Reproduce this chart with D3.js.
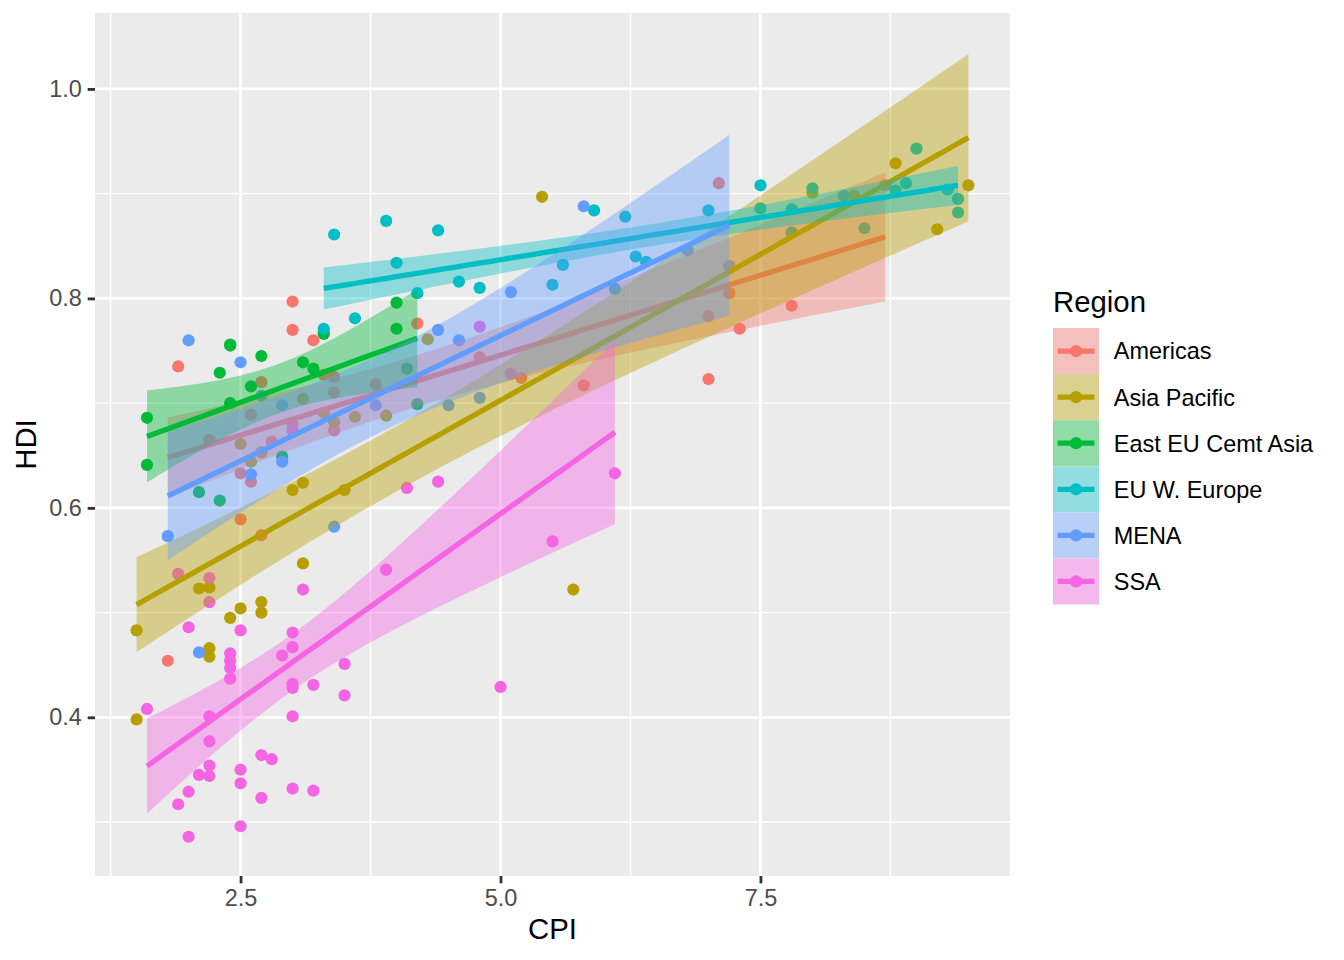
<!DOCTYPE html>
<html>
<head>
<meta charset="utf-8">
<script src="https://cdn.jsdelivr.net/npm/d3@7"></script>
<style>
  html, body { margin: 0; padding: 0; background: #fff; }
  svg { display: block; font-family: "Liberation Sans", Arial, Helvetica, sans-serif; }
</style>
</head>
<body>
<svg id="chart" width="1344" height="960"></svg>
<script>
// CPI / HDI pairs per region
const americas = [
  [3.0, 0.797], [7.3, 0.771], [7.8, 0.793], [2.8, 0.663], [3.8, 0.718], [8.7, 0.908],
  [7.2, 0.805], [3.4, 0.710], [4.8, 0.744], [4.2, 0.776], [5.2, 0.724], [2.6, 0.689],
  [2.7, 0.720], [3.4, 0.674], [2.7, 0.574], [2.5, 0.633], [1.8, 0.454], [2.6, 0.625],
  [3.3, 0.727], [3.0, 0.770], [2.5, 0.589], [3.3, 0.768], [2.2, 0.665], [3.4, 0.725],
  [7.0, 0.723], [5.8, 0.717], [3.0, 0.680], [3.2, 0.760], [7.1, 0.910], [7.0, 0.783],
  [1.9, 0.735]
];
const asiaPacific = [
  [1.5, 0.398], [8.8, 0.929], [2.7, 0.500], [5.7, 0.522], [2.1, 0.523], [3.6, 0.687],
  [8.4, 0.898], [3.1, 0.547], [3.0, 0.617], [8.0, 0.901], [3.1, 0.624], [5.4, 0.897],
  [2.2, 0.524], [4.3, 0.761], [2.5, 0.661], [2.7, 0.653], [1.5, 0.483], [2.2, 0.458],
  [9.5, 0.908], [2.5, 0.504], [2.2, 0.466], [2.6, 0.644], [3.9, 0.688], [9.2, 0.866],
  [2.7, 0.510], [3.3, 0.691], [3.4, 0.682], [2.4, 0.495], [3.1, 0.704], [3.5, 0.617]
];
const eastEU = [
  [3.1, 0.739], [2.6, 0.716], [2.4, 0.700], [2.4, 0.756], [3.2, 0.733], [4.0, 0.796],
  [4.1, 0.733], [2.7, 0.745], [2.1, 0.615], [4.0, 0.771], [3.3, 0.766], [2.9, 0.649],
  [2.4, 0.755], [2.3, 0.607], [1.6, 0.686], [2.3, 0.729], [1.6, 0.641], [4.2, 0.699]
];
const euWEurope = [
  [7.8, 0.885], [7.5, 0.886], [3.3, 0.771], [6.3, 0.840], [4.4, 0.865], [9.4, 0.895],
  [6.4, 0.835], [9.4, 0.882], [7.0, 0.884], [8.0, 0.905], [3.4, 0.861], [4.6, 0.816],
  [8.3, 0.898], [7.5, 0.908], [3.9, 0.874], [4.2, 0.805], [4.8, 0.810], [8.5, 0.867],
  [5.6, 0.832], [8.9, 0.910], [9.0, 0.943], [5.5, 0.813], [6.1, 0.809], [3.6, 0.781],
  [4.0, 0.834], [5.9, 0.884], [6.2, 0.878], [9.3, 0.904], [8.8, 0.903], [7.8, 0.863]
];
const mena = [
  [2.9, 0.698], [5.1, 0.806], [2.9, 0.644], [2.7, 0.707], [1.8, 0.573], [5.8, 0.888],
  [4.5, 0.698], [4.6, 0.760], [2.5, 0.739], [2.0, 0.760], [3.4, 0.582], [4.8, 0.705],
  [7.2, 0.831], [4.4, 0.770], [2.6, 0.632], [3.8, 0.698], [6.8, 0.846], [2.1, 0.462]
];
const ssa = [
  [1.9, 0.537], [2.2, 0.533], [2.2, 0.510], [3.1, 0.522], [2.0, 0.486], [2.5, 0.483],
  [3.0, 0.481], [3.0, 0.467], [2.9, 0.459], [3.5, 0.451], [2.4, 0.461], [2.4, 0.454],
  [2.4, 0.447], [2.4, 0.437], [1.6, 0.408], [2.2, 0.401], [3.0, 0.432], [3.0, 0.428],
  [3.2, 0.431], [3.5, 0.421], [3.0, 0.401], [2.2, 0.377], [2.7, 0.364], [2.8, 0.360],
  [2.2, 0.354], [2.1, 0.345], [2.2, 0.344], [2.5, 0.350], [2.5, 0.337], [2.0, 0.329],
  [1.9, 0.317], [3.0, 0.332], [3.2, 0.330], [2.7, 0.323], [2.5, 0.296], [2.0, 0.286],
  [4.1, 0.619], [4.4, 0.625], [6.1, 0.633], [5.5, 0.568], [5.0, 0.429], [3.9, 0.541],
  [3.0, 0.674], [5.1, 0.728], [4.8, 0.773]
];

const regionNames = ["Americas", "Asia Pacific", "East EU Cemt Asia", "EU W. Europe", "MENA", "SSA"];
const regionData = [americas, asiaPacific, eastEU, euWEurope, mena, ssa];
const regionColors = ["#F8766D", "#B79F00", "#00BA38", "#00BFC4", "#619CFF", "#F564E3"];

const xTicks = [2.5, 5.0, 7.5];
const xMinor = [1.25, 3.75, 6.25, 8.75];
const yTicks = [0.4, 0.6, 0.8, 1.0];
const yMinor = [0.3, 0.5, 0.7, 0.9];
const xDomain = [1.1, 9.9];
const yDomain = [0.2485, 1.0725];

const svg = d3.select("#chart");
const panel = { left: 95, right: 1010, top: 13, bottom: 876 };
const pt = 192 / 72;   // 图片是 7x5 英寸 @192dpi

const x = d3.scaleLinear().domain(xDomain).range([panel.left, panel.right]);
const y = d3.scaleLinear().domain(yDomain).range([panel.bottom, panel.top]);

svg.append("rect").attr("width", 1344).attr("height", 960).attr("fill", "#fff");

// 面板背景与网格
svg.append("rect")
  .attr("x", panel.left).attr("y", panel.top)
  .attr("width", panel.right - panel.left).attr("height", panel.bottom - panel.top)
  .attr("fill", "#EBEBEB");

const majorW = 2.84, minorW = 1.42;
const grid = svg.append("g");
grid.selectAll(".xminor").data(xMinor).enter().append("line")
  .attr("x1", d => x(d)).attr("x2", d => x(d))
  .attr("y1", panel.top).attr("y2", panel.bottom)
  .attr("stroke", "#fff").attr("stroke-width", minorW);
grid.selectAll(".yminor").data(yMinor).enter().append("line")
  .attr("y1", d => y(d)).attr("y2", d => y(d))
  .attr("x1", panel.left).attr("x2", panel.right)
  .attr("stroke", "#fff").attr("stroke-width", minorW);
grid.selectAll(".xmajor").data(xTicks).enter().append("line")
  .attr("x1", d => x(d)).attr("x2", d => x(d))
  .attr("y1", panel.top).attr("y2", panel.bottom)
  .attr("stroke", "#fff").attr("stroke-width", majorW);
grid.selectAll(".ymajor").data(yTicks).enter().append("line")
  .attr("y1", d => y(d)).attr("y2", d => y(d))
  .attr("x1", panel.left).attr("x2", panel.right)
  .attr("stroke", "#fff").attr("stroke-width", majorW);

// 点
const pointR = 6.1;
regionData.forEach((pts, i) => {
  svg.append("g").selectAll("circle").data(pts).enter().append("circle")
    .attr("cx", d => x(d[0])).attr("cy", d => y(d[1]))
    .attr("r", pointR).attr("fill", regionColors[i]);
});

// t 分位数近似 (0.975)
function tQuantile(df) {
  const z = 1.959964;
  const z3 = z * z * z, z5 = z3 * z * z, z7 = z5 * z * z;
  return z + (z3 + z) / (4 * df)
    + (5 * z5 + 16 * z3 + 3 * z) / (96 * df * df)
    + (3 * z7 + 19 * z5 + 17 * z3 - 15 * z) / (384 * df * df * df);
}

// 线性回归 + 95% 置信带
function lmFit(pts) {
  const n = pts.length;
  const mx = d3.mean(pts, d => d[0]);
  const my = d3.mean(pts, d => d[1]);
  let sxx = 0, sxy = 0;
  pts.forEach(d => { sxx += (d[0] - mx) ** 2; sxy += (d[0] - mx) * (d[1] - my); });
  const b = sxy / sxx;
  const a = my - b * mx;
  let rss = 0;
  pts.forEach(d => { rss += (d[1] - a - b * d[0]) ** 2; });
  const s2 = rss / (n - 2);
  const t = tQuantile(n - 2);
  const [x0, x1] = d3.extent(pts, d => d[0]);
  const out = [];
  for (let k = 0; k < 80; k++) {
    const xv = x0 + (x1 - x0) * k / 79;
    const fit = a + b * xv;
    const se = Math.sqrt(s2 * (1 / n + (xv - mx) ** 2 / sxx));
    out.push({ x: xv, y: fit, lo: fit - t * se, hi: fit + t * se });
  }
  return out;
}

const lineW = 5.3;
const area = d3.area().x(d => x(d.x)).y0(d => y(d.lo)).y1(d => y(d.hi));
const line = d3.line().x(d => x(d.x)).y(d => y(d.y));

regionData.forEach((pts, i) => {
  const fit = lmFit(pts);
  svg.append("path").datum(fit)
    .attr("d", area).attr("fill", regionColors[i]).attr("fill-opacity", 0.4);
  svg.append("path").datum(fit)
    .attr("d", line).attr("fill", "none")
    .attr("stroke", regionColors[i]).attr("stroke-width", lineW);
});

// 坐标轴
const tickLen = 2.75 * pt, tickPad = 2.2 * pt;
const xAxis = svg.append("g")
  .attr("transform", `translate(0,${panel.bottom})`)
  .call(d3.axisBottom(x).tickValues(xTicks).tickFormat(d3.format(".1f"))
    .tickSize(tickLen).tickPadding(tickPad));
const yAxis = svg.append("g")
  .attr("transform", `translate(${panel.left},0)`)
  .call(d3.axisLeft(y).tickValues(yTicks).tickFormat(d3.format(".1f"))
    .tickSize(tickLen).tickPadding(tickPad));

[xAxis, yAxis].forEach(ax => {
  ax.select(".domain").remove();
  ax.selectAll(".tick line").attr("stroke", "#333333").attr("stroke-width", majorW);
  ax.selectAll(".tick text")
    .attr("fill", "#4D4D4D")
    .style("font-size", (8.8 * pt) + "px")
    .style("font-family", "'Liberation Sans', Arial, sans-serif");
});

const titleSize = (11 * pt) + "px";
const labelSize = (8.8 * pt) + "px";

svg.append("text")
  .attr("x", (panel.left + panel.right) / 2).attr("y", 939)
  .attr("text-anchor", "middle")
  .style("font-size", titleSize).attr("fill", "#000")
  .text("CPI");
svg.append("text")
  .attr("transform", `translate(36,${(panel.top + panel.bottom) / 2}) rotate(-90)`)
  .attr("text-anchor", "middle")
  .style("font-size", titleSize).attr("fill", "#000")
  .text("HDI");

// 图例
const legend = svg.append("g").attr("transform", "translate(1053,0)");
legend.append("text")
  .attr("x", 0).attr("y", 312)
  .style("font-size", titleSize).attr("fill", "#000")
  .text("Region");

const keySize = 17.28 * pt;
const keyTop = 328;
regionNames.forEach((name, i) => {
  const gy = keyTop + i * keySize;
  const key = legend.append("g").attr("transform", `translate(0,${gy})`);
  key.append("rect").attr("width", keySize).attr("height", keySize).attr("fill", "#F2F2F2");
  key.append("rect").attr("width", keySize).attr("height", keySize)
    .attr("fill", regionColors[i]).attr("fill-opacity", 0.4);
  key.append("line")
    .attr("x1", keySize * 0.1).attr("x2", keySize * 0.9)
    .attr("y1", keySize / 2).attr("y2", keySize / 2)
    .attr("stroke", regionColors[i]).attr("stroke-width", lineW);
  key.append("circle")
    .attr("cx", keySize / 2).attr("cy", keySize / 2).attr("r", pointR)
    .attr("fill", regionColors[i]);
  legend.append("text")
    .attr("x", keySize + 5.5 * pt).attr("y", gy + keySize / 2).attr("dy", "0.36em")
    .style("font-size", labelSize).attr("fill", "#000")
    .text(name);
});
</script>
</body>
</html>
